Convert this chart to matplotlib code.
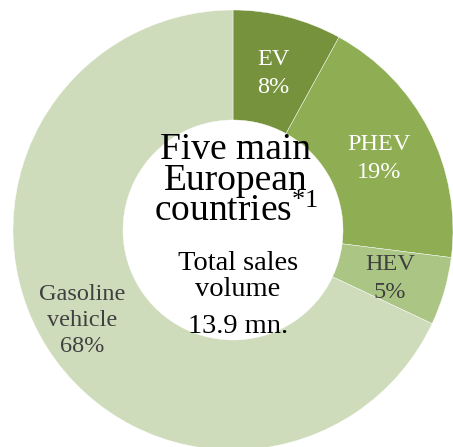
import matplotlib.pyplot as plt

plt.rcParams['font.family'] = ['Liberation Serif', 'DejaVu Serif']
plt.rcParams['mathtext.fontset'] = 'custom'
plt.rcParams['mathtext.rm'] = 'Liberation Serif'
plt.rcParams['mathtext.it'] = 'Liberation Serif:italic'

# sales share by powertrain
labels = ["EV", "PHEV", "HEV", "Gasoline\nvehicle"]
shares = [8, 19, 5, 68]
colors = ["#77923c", "#8fae53", "#abc584", "#cfdcbb"]
text_colors = ["white", "white", "#404040", "#404040"]

W, H = 453, 447
fig = plt.figure(figsize=(W / 100, H / 100), dpi=100)
ax = fig.add_axes([0, 0, 1, 1])

cx, cy = 233, H - 230
r_out, r_in = 220, 110
ax.pie(shares, colors=colors, startangle=90, counterclock=False,
       center=(cx, cy), radius=r_out,
       wedgeprops=dict(width=r_out - r_in, edgecolor="white", linewidth=0.3))

ax.set_xlim(0, W)
ax.set_ylim(0, H)
ax.set_aspect("equal")
ax.set_axis_off()

# wedge labels (x, baseline of first line, line gap) in pixel coords
label_pos = [(273, 65, 28), (379, 150, 28), (390, 270, 28), (82, 300, 26)]
for lab, val, col, (x, y, gap) in zip(labels, shares, text_colors, label_pos):
    lines = lab.split("\n") + [f"{val}%"]
    for i, ln in enumerate(lines):
        ax.text(x, H - (y + i * gap), ln, ha="center", va="baseline",
                fontsize=17.5, color=col)

# centre caption
ax.text(236, H - 221, "Five main\nEuropean\ncountries$^{\\mathrm{*1}}$",
        ha="center", va="baseline", multialignment="center",
        fontsize=27, linespacing=0.86)
ax.text(238, H - 270, "Total sales", ha="center", va="baseline", fontsize=20.5)
ax.text(238, H - 296, "volume", ha="center", va="baseline", fontsize=20.5)
ax.text(238, H - 333, "13.9 mn.", ha="center", va="baseline", fontsize=20.5)

fig.savefig("out.png", dpi=100)
